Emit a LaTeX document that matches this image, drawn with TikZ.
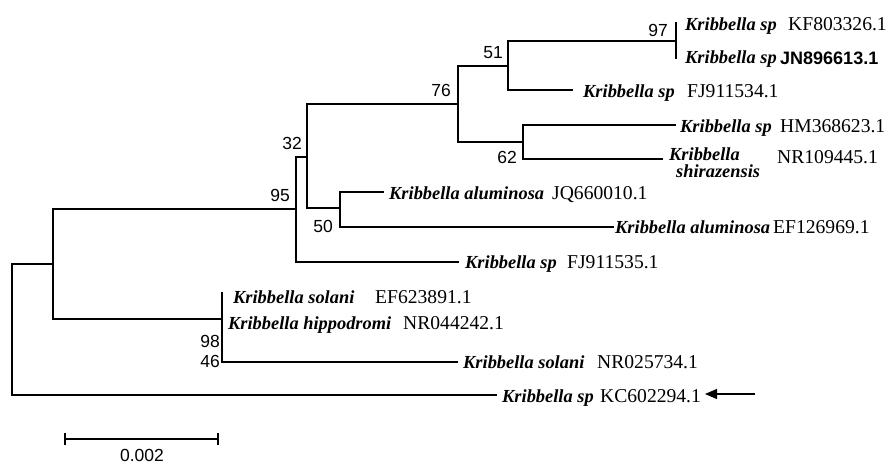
\documentclass[tikz,border=0pt]{standalone}
\usepackage{fontspec}
\setmainfont{Liberation Serif}
\setsansfont{Liberation Sans}
\usetikzlibrary{arrows.meta}
\tikzset{
  branch/.style={line width=1.1pt, line cap=rect},
  sp/.style={anchor=base west, inner sep=0pt, font=\fontsize{18.4}{20}\selectfont\bfseries\itshape},
  acc/.style={anchor=base west, inner sep=0pt, font=\fontsize{19.6}{21}\selectfont},
  boot/.style={anchor=east, inner sep=0pt, font=\sffamily\fontsize{17.5}{20}\selectfont},
}
\begin{document}
\begin{tikzpicture}[x=1pt,y=-1pt]
\useasboundingbox[fill=white] (0,0) rectangle (889,464);
% internal nodes
\coordinate (R) at (12,264);
\coordinate (A) at (53,264);
\coordinate (B) at (296,209);
\coordinate (C) at (222,319);
\coordinate (D) at (307,157);
\coordinate (E) at (458,104);
\coordinate (F) at (340,208);
\coordinate (G) at (508,66);
\coordinate (H) at (523,142);
\coordinate (I) at (676,41);
% tips
\coordinate (tKF) at (676,23);
\coordinate (tJN) at (676,58);
\coordinate (tFJ4) at (572,90);
\coordinate (tHM) at (675,125);
\coordinate (tSH) at (662,159);
\coordinate (tJQ) at (383,192);
\coordinate (tEF1) at (613,227);
\coordinate (tFJ5) at (458,262);
\coordinate (tEF6) at (222,293);
\coordinate (tNR04) at (222,323);
\coordinate (tNR02) at (457,362);
\coordinate (tKC) at (496,395);
% branches
\draw[branch] (R) |- (A);
\draw[branch] (R) |- (tKC);
\draw[branch] (A) |- (B);
\draw[branch] (A) |- (C);
\draw[branch] (B) |- (D);
\draw[branch] (B) |- (tFJ5);
\draw[branch] (D) |- (E);
\draw[branch] (D) |- (F);
\draw[branch] (E) |- (G);
\draw[branch] (E) |- (H);
\draw[branch] (G) |- (I);
\draw[branch] (G) |- (tFJ4);
\draw[branch] (I) |- (tKF);
\draw[branch] (I) |- (tJN);
\draw[branch] (H) |- (tHM);
\draw[branch] (H) |- (tSH);
\draw[branch] (F) |- (tJQ);
\draw[branch] (F) |- (tEF1);
\draw[branch] (C) |- (tEF6);
\draw[branch] (C) |- (tNR02);
% leaf labels
\node[sp] (nKF) at (685,30) {Kribbella sp};
\node[acc] (aKF) at (788,30) {KF803326.1};
\node[sp] (nJN) at (685,63) {Kribbella sp};
\node[acc,font=\sffamily\bfseries\fontsize{18}{20}\selectfont] (aJN) at (780,64) {JN896613.1};
\node[sp] (nFJ4) at (583,97) {Kribbella sp};
\node[acc] (aFJ4) at (687,97) {FJ911534.1};
\node[sp] (nHM) at (680,132) {Kribbella sp};
\node[acc] (aHM) at (780,132) {HM368623.1};
\node[sp] (nSH1) at (669,160) {Kribbella};
\node[sp] (nSH2) at (676,177) {shirazensis};
\node[acc] (aSH) at (777,163) {NR109445.1};
\node[sp] (nJQ) at (389,199) {Kribbella aluminosa};
\node[acc] (aJQ) at (552,199) {JQ660010.1};
\node[sp] (nEF1) at (615,233) {Kribbella aluminosa};
\node[acc] (aEF1) at (773,233) {EF126969.1};
\node[sp] (nFJ5) at (465,268) {Kribbella sp};
\node[acc] (aFJ5) at (567,268) {FJ911535.1};
\node[sp] (nEF6) at (233,303) {Kribbella solani};
\node[acc] (aEF6) at (375,303) {EF623891.1};
\node[sp] (nNR04) at (228,329) {Kribbella hippodromi};
\node[acc] (aNR04) at (403,329) {NR044242.1};
\node[sp] (nNR02) at (463,368) {Kribbella solani};
\node[acc] (aNR02) at (597,368) {NR025734.1};
\node[sp] (nKC) at (502,402) {Kribbella sp};
\node[acc] (aKC) at (600,402) {KC602294.1};
% bootstrap values
\node[boot] (b97) at (668,30) {97};
\node[boot] (b51) at (503,53) {51};
\node[boot] (b76) at (451,90) {76};
\node[boot] (b32) at (302,143) {32};
\node[boot] (b95) at (290,195) {95};
\node[boot] (b62) at (517,157) {62};
\node[boot] (b50) at (333,226) {50};
\node[boot] (b98) at (220,341) {98};
\node[boot] (b46) at (220,361) {46};
% arrow
\coordinate (arT) at (755,394);
\coordinate (arH) at (705,394);
\draw[line width=1.1pt,-{Triangle[length=12pt,width=10pt]}] (arT) -- (arH);
% scale bar
\coordinate (s1) at (65,439);
\coordinate (s2) at (218,439);
\draw[branch,line cap=butt] (s1) -- (s2);
\draw[branch,line cap=butt] ([yshift=-6pt]s1) -- ([yshift=6pt]s1);
\draw[branch,line cap=butt] ([yshift=-6pt]s2) -- ([yshift=6pt]s2);
\node[inner sep=0pt, font=\sffamily\fontsize{17.5}{20}\selectfont] (sbl) at (142,455) {0.002};
\end{tikzpicture}
\end{document}
